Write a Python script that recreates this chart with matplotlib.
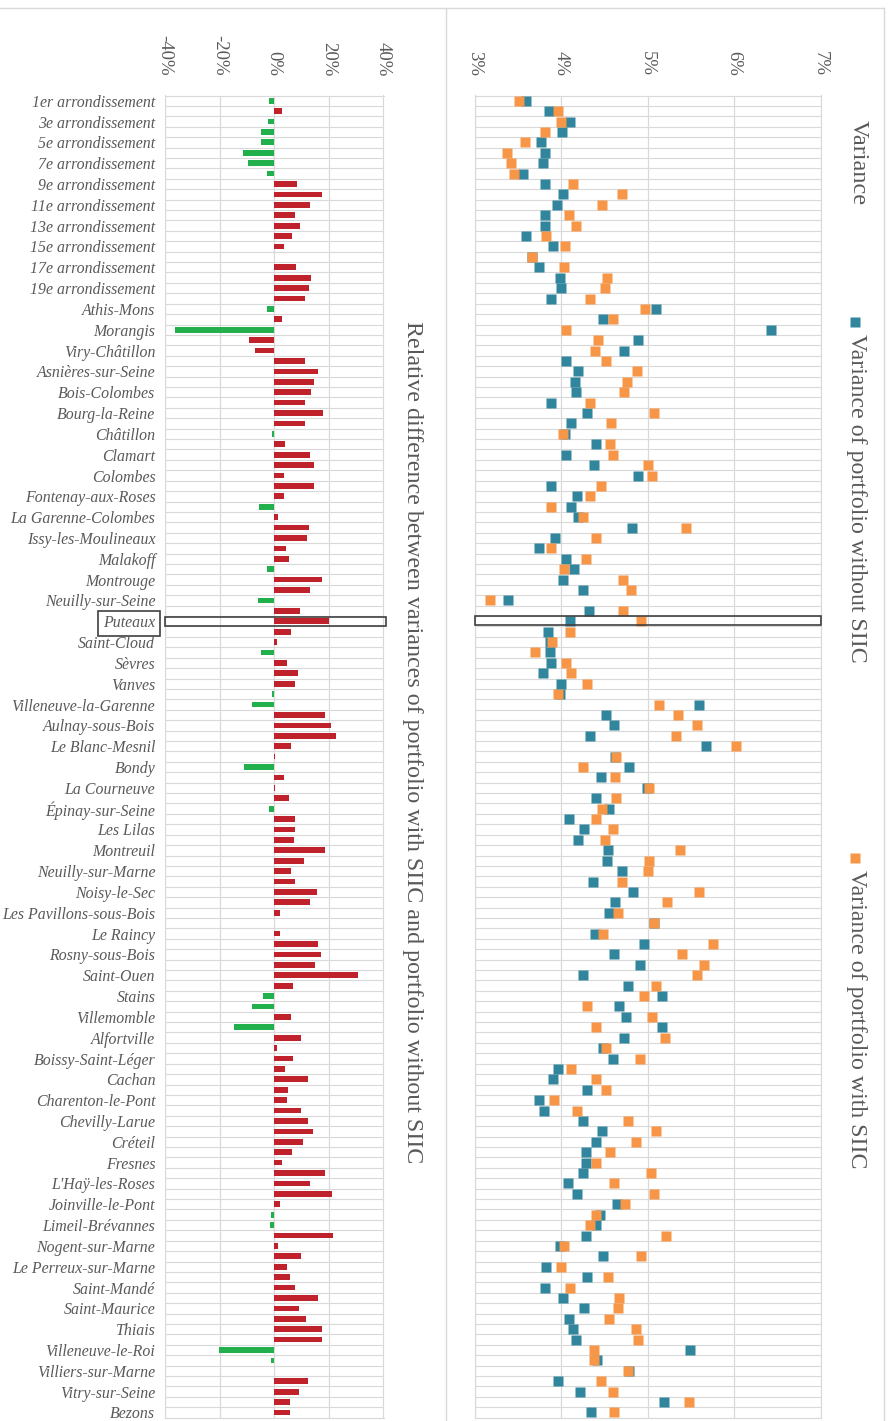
import matplotlib.pyplot as plt
from matplotlib.patches import Rectangle
from matplotlib.lines import Line2D
import numpy as np

# communes in chart order (only every other one gets a tick label)
communes = [
    '1er arrondissement', '2e arrondissement', '3e arrondissement', '4e arrondissement',
    '5e arrondissement', '6e arrondissement', '7e arrondissement', '8e arrondissement',
    '9e arrondissement', '10e arrondissement', '11e arrondissement', '12e arrondissement',
    '13e arrondissement', '14e arrondissement', '15e arrondissement', '16e arrondissement',
    '17e arrondissement', '18e arrondissement', '19e arrondissement', '20e arrondissement',
    'Athis-Mons', 'Juvisy-sur-Orge', 'Morangis', 'Savigny-sur-Orge', 'Viry-Châtillon',
    'Antony', 'Asnières-sur-Seine', 'Bagneux', 'Bois-Colombes', 'Boulogne-Billancourt',
    'Bourg-la-Reine', 'Châtenay-Malabry', 'Châtillon', 'Chaville', 'Clamart', 'Clichy',
    'Colombes', 'Courbevoie', 'Fontenay-aux-Roses', 'Garches', 'La Garenne-Colombes',
    'Gennevilliers', 'Issy-les-Moulineaux', 'Levallois-Perret', 'Malakoff', 'Meudon',
    'Montrouge', 'Nanterre', 'Neuilly-sur-Seine', 'Le Plessis-Robinson', 'Puteaux',
    'Rueil-Malmaison', 'Saint-Cloud', 'Sceaux', 'Sèvres', 'Suresnes', 'Vanves',
    'Vaucresson', 'Villeneuve-la-Garenne', 'Aubervilliers', 'Aulnay-sous-Bois', 'Bagnolet',
    'Le Blanc-Mesnil', 'Bobigny', 'Bondy', 'Clichy-sous-Bois', 'La Courneuve', 'Drancy',
    'Épinay-sur-Seine', 'Gagny', 'Les Lilas', 'Livry-Gargan', 'Montreuil',
    'Neuilly-Plaisance', 'Neuilly-sur-Marne', 'Noisy-le-Grand', 'Noisy-le-Sec', 'Pantin',
    'Les Pavillons-sous-Bois', 'Pierrefitte-sur-Seine', 'Le Raincy', 'Romainville',
    'Rosny-sous-Bois', 'Saint-Denis', 'Saint-Ouen', 'Sevran', 'Stains',
    'Tremblay-en-France', 'Villemomble', 'Villepinte', 'Alfortville', 'Arcueil',
    'Boissy-Saint-Léger', 'Bonneuil-sur-Marne', 'Cachan', 'Champigny-sur-Marne',
    'Charenton-le-Pont', 'Chennevières-sur-Marne', 'Chevilly-Larue', 'Choisy-le-Roi',
    'Créteil', 'Fontenay-sous-Bois', 'Fresnes', 'Gentilly', "L'Haÿ-les-Roses",
    'Ivry-sur-Seine', 'Joinville-le-Pont', 'Le Kremlin-Bicêtre', 'Limeil-Brévannes',
    'Maisons-Alfort', 'Nogent-sur-Marne', 'Orly', 'Le Perreux-sur-Marne',
    'Le Plessis-Trévise', 'Saint-Mandé', 'Saint-Maur-des-Fossés', 'Saint-Maurice',
    'Sucy-en-Brie', 'Thiais', 'Villejuif', 'Villeneuve-le-Roi', 'Villeneuve-Saint-Georges',
    'Villiers-sur-Marne', 'Vincennes', 'Vitry-sur-Seine', 'Argenteuil', 'Bezons',
]

# relative difference (%) between variance with SIIC and without SIIC
rel_diff = [
    -2.0, 2.8, -2.2, -4.9, -5.0, -11.5, -9.7, -2.8, 8.3, 17.3,
    13.0, 7.5, 9.3, 6.6, 3.6, 0.0, 8.0, 13.6, 12.9, 11.1,
    -2.5, 2.7, -36.5, -9.3, -7.2, 11.3, 16.0, 14.4, 13.5, 11.3,
    18.0, 11.3, -0.8, 3.9, 13.2, 14.6, 3.5, 14.6, 3.6, -5.6,
    1.2, 12.9, 11.9, 4.2, 5.5, -2.7, 17.3, 13.2, -6.0, 9.4,
    20.1, 6.3, 0.9, -4.7, 4.5, 8.8, 7.5, -0.9, -8.2, 18.4,
    20.9, 22.7, 6.0, 0.3, -11.0, 3.6, 0.2, 5.5, -1.9, 7.7,
    7.7, 7.4, 18.4, 11.0, 6.3, 7.7, 15.8, 13.0, 2.2, 0.0,
    2.0, 16.2, 17.1, 15.1, 30.6, 6.7, -4.1, -8.0, 6.3, -14.7,
    9.9, 0.9, 6.7, 4.1, 12.5, 5.2, 4.5, 9.9, 12.2, 14.1,
    10.5, 6.6, 2.8, 18.6, 13.0, 21.2, 2.0, -1.1, -1.6, 21.6,
    1.2, 9.7, 4.5, 5.6, 7.5, 16.2, 9.1, 11.6, 17.6, 17.4,
    -20.2, -1.1, 0.0, 12.4, 8.9, 5.6, 5.9,
]

# variance (%) of the portfolio without SIIC
var_without = [
    3.60, 3.86, 4.10, 4.01, 3.77, 3.82, 3.79, 3.56, 3.82, 4.02,
    3.95, 3.81, 3.81, 3.60, 3.91, 3.67, 3.74, 3.99, 4.00, 3.89,
    5.10, 4.49, 6.43, 4.89, 4.73, 4.06, 4.20, 4.16, 4.17, 3.89,
    4.30, 4.12, 4.05, 4.40, 4.06, 4.38, 4.89, 3.88, 4.19, 4.12,
    4.20, 4.82, 3.93, 3.74, 4.06, 4.15, 4.02, 4.25, 3.39, 4.32,
    4.10, 3.85, 3.87, 3.87, 3.88, 3.79, 4.00, 3.99, 5.59, 4.52,
    4.61, 4.34, 5.68, 4.62, 4.79, 4.46, 4.99, 4.40, 4.56, 4.09,
    4.27, 4.20, 4.54, 4.53, 4.71, 4.37, 4.83, 4.62, 4.56, 5.07,
    4.39, 4.96, 4.61, 4.91, 4.26, 4.78, 5.17, 4.67, 4.75, 5.17,
    4.73, 4.48, 4.60, 3.96, 3.91, 4.30, 3.75, 3.80, 4.26, 4.47,
    4.41, 4.29, 4.29, 4.25, 4.08, 4.19, 4.65, 4.45, 4.40, 4.29,
    3.99, 4.49, 3.83, 4.30, 3.81, 4.02, 4.27, 4.09, 4.14, 4.17,
    5.49, 4.42, 4.79, 3.97, 4.22, 5.19, 4.35,
]

# variance (%) of the portfolio with SIIC
var_with = [
    3.52, 3.97, 4.00, 3.82, 3.58, 3.38, 3.42, 3.46, 4.14, 4.70,
    4.47, 4.09, 4.17, 3.83, 4.05, 3.67, 4.04, 4.53, 4.51, 4.33,
    4.97, 4.60, 4.06, 4.43, 4.39, 4.52, 4.88, 4.76, 4.73, 4.33,
    5.07, 4.58, 4.02, 4.57, 4.60, 5.01, 5.05, 4.46, 4.34, 3.89,
    4.25, 5.44, 4.40, 3.89, 4.29, 4.04, 4.72, 4.81, 3.18, 4.72,
    4.93, 4.10, 3.90, 3.70, 4.06, 4.12, 4.30, 3.96, 5.13, 5.35,
    5.57, 5.33, 6.02, 4.64, 4.26, 4.62, 5.02, 4.64, 4.47, 4.40,
    4.60, 4.51, 5.38, 5.02, 5.00, 4.70, 5.59, 5.22, 4.66, 5.07,
    4.48, 5.76, 5.40, 5.65, 5.57, 5.10, 4.96, 4.30, 5.05, 4.41,
    5.20, 4.52, 4.91, 4.12, 4.40, 4.52, 3.92, 4.18, 4.78, 5.10,
    4.87, 4.57, 4.41, 5.04, 4.61, 5.08, 4.74, 4.40, 4.33, 5.21,
    4.04, 4.93, 4.00, 4.54, 4.10, 4.67, 4.66, 4.56, 4.87, 4.89,
    4.38, 4.38, 4.78, 4.46, 4.60, 5.48, 4.61,
]

# negative differences still shown in red
red_negatives = ['Savigny-sur-Orge', 'Viry-Châtillon']
highlight = 'Puteaux'

diff_ticks = [-40, -20, 0, 20, 40]
var_ticks = [3, 4, 5, 6, 7]

grey = '#595959'
grid_c = '#d9d9d9'
teal = '#31859c'
orange = '#f79646'
red = '#c0222b'
green = '#21b04b'

plt.rcParams['font.family'] = ['Liberation Serif', 'DejaVu Serif']

W, H = 893, 1421
fig = plt.figure(figsize=(W / 100, H / 100), dpi=100)


def fx(px):
    return px / W


def fy(py):
    return 1 - py / H


top, bot = 95.5, 1417.7
ax1 = fig.add_axes([fx(165), fy(bot), fx(383.5 - 165), (bot - top) / H])
ax2 = fig.add_axes([fx(474.5), fy(bot), fx(820.5 - 474.5), (bot - top) / H])

n = len(communes)
y = np.arange(n)

bar_colors = [red if (v >= 0 or c in red_negatives) else green
              for c, v in zip(communes, rel_diff)]
ax1.barh(y, rel_diff, height=0.55, color=bar_colors, zorder=3)

ax2.plot(var_without, y, 's', ms=7.4, color=teal, mec='none', zorder=3)
ax2.plot(var_with, y, 's', ms=7.4, color=orange, mec='none', zorder=4)

ax1.set_xlim(-40, 40)
ax1.set_xticks(diff_ticks)
ax1.set_xticklabels([f'{t}%' for t in diff_ticks])
ax2.set_xlim(3, 7)
ax2.set_xticks(var_ticks)
ax2.set_xticklabels([f'{t}%' for t in var_ticks])

for ax in (ax1, ax2):
    ax.set_ylim(n - 0.5, -0.5)
    x0, x1 = ax.get_xlim()
    ax.hlines(np.arange(-0.5, n), x0, x1, color=grid_c, lw=0.8, zorder=1)
    ax.grid(axis='x', color=grid_c, lw=0.9, zorder=1)
    ax.set_axisbelow(True)
    ax.xaxis.tick_top()
    ax.tick_params(axis='x', length=0, pad=14, labelsize=13.5,
                   labelcolor=grey, labelrotation=-90)
    for s in ax.spines.values():
        s.set_color(grid_c)
        s.set_linewidth(0.8)

ax1.set_yticks(y[::2])
ax1.set_yticklabels(communes[::2], fontstyle='italic')
ax1.tick_params(axis='y', length=0, pad=7, labelsize=11.4, labelcolor=grey)
ax2.set_yticks([])

# box around the highlighted commune
k = communes.index(highlight)
ax1.add_patch(Rectangle((-40, k - 0.45), 80.8, 0.9, fill=False, ec='#404040',
                        lw=1.2, zorder=5, clip_on=False))
ax2.add_patch(Rectangle((3, k - 0.5), 4, 0.9, fill=False, ec='#404040',
                        lw=1.2, zorder=5, clip_on=False))
for lbl in ax1.get_yticklabels():
    if lbl.get_text() == highlight:
        lbl.set_bbox(dict(boxstyle='square,pad=0.3', fc='none',
                          ec='#404040', lw=1.2))

# axis titles
fig.text(fx(412), fy(742), 'Relative difference between variances of portfolio '
         'with SIIC and portfolio without SIIC', rotation=-90, ha='center',
         va='center', fontsize=17.3, color=grey)
fig.text(fx(858), fy(120), 'Variance', rotation=-90, ha='center', va='top',
         fontsize=17.5, color=grey)

# legend
fig.add_artist(Line2D([fx(855)], [fy(322)], marker='s', ms=7, color=teal,
                      mec='none', transform=fig.transFigure))
fig.text(fx(856), fy(334), 'Variance of portfolio without SIIC', rotation=-90,
         ha='center', va='top', fontsize=17.2, color=grey)
fig.add_artist(Line2D([fx(855)], [fy(858)], marker='s', ms=7, color=orange,
                      mec='none', transform=fig.transFigure))
fig.text(fx(856), fy(870), 'Variance of portfolio with SIIC', rotation=-90,
         ha='center', va='top', fontsize=17.2, color=grey)

# chart area borders
fig.add_artist(Line2D([0, fx(884)], [fy(8.3), fy(8.3)], color=grid_c, lw=1,
                      transform=fig.transFigure))
for xb in (446, 884):
    fig.add_artist(Line2D([fx(xb), fx(xb)], [fy(8.3), 0], color=grid_c, lw=1,
                          transform=fig.transFigure))

fig.savefig('out.png', dpi=100)
